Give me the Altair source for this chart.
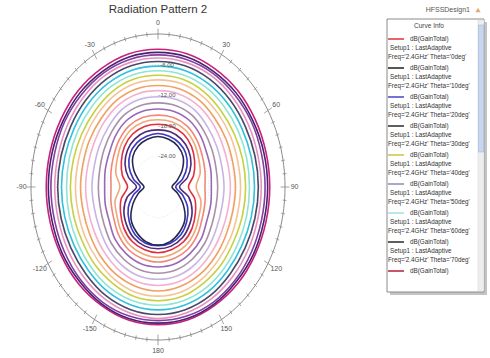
import altair as alt
import numpy as np
import pandas as pd

FONT = "Liberation Sans"

# Cut angles in degrees, measured clockwise from the top of the plot
ANGLES = [0, 15, 30, 45, 60, 75, 90, 105, 120, 135, 150, 165,
          180, 195, 210, 225, 240, 255, 270, 285, 300, 315, 330, 345]

# dB(GainTotal) for each swept curve, one value per cut angle
CURVE_NAMES = ["c01", "c02", "c03", "c04", "c05", "c06", "c07", "c08", "c09", "c10",
               "c11", "c12", "c13", "c14", "c15", "c16", "c17", "c18", "c19", "c20"]
CURVE_COLORS = ["#c8207a", "#4a2070", "#8040a0", "#e890c0", "#484868",
                "#30c0dc", "#90e4d4", "#c8d040", "#f4c498", "#f0a060",
                "#f4b0d0", "#c8b4e4", "#a890a8", "#9868b8", "#f08878",
                "#f0a878", "#e03040", "#502878", "#3838c0", "#282850"]
GAIN = [
    [-3.0, -3.0, -3.2, -3.3, -3.5, -3.6, -3.6, -3.6, -3.5, -3.3, -3.2, -3.0, -3.0,
     -3.0, -3.2, -3.3, -3.5, -3.6, -3.6, -3.6, -3.5, -3.3, -3.2, -3.0],
    [-3.6, -3.6, -3.8, -3.9, -4.1, -4.1, -4.1, -4.1, -3.9, -3.8, -3.5, -3.3, -3.3,
     -3.3, -3.5, -3.8, -3.9, -4.1, -4.1, -4.1, -4.1, -3.9, -3.8, -3.6],
    [-4.1, -4.1, -4.2, -4.4, -4.5, -4.7, -4.7, -4.7, -4.5, -4.2, -3.9, -3.8, -3.8,
     -3.8, -3.9, -4.2, -4.5, -4.7, -4.7, -4.7, -4.5, -4.4, -4.2, -4.1],
    [-4.7, -4.7, -4.8, -5.1, -5.4, -5.6, -5.6, -5.6, -5.4, -5.1, -4.7, -4.4, -4.2,
     -4.4, -4.7, -5.1, -5.4, -5.6, -5.6, -5.6, -5.4, -5.1, -4.8, -4.7],
    [-5.4, -5.4, -5.6, -5.9, -6.2, -6.3, -6.3, -6.3, -6.2, -5.9, -5.4, -5.1, -5.0,
     -5.1, -5.4, -5.9, -6.2, -6.3, -6.3, -6.3, -6.2, -5.9, -5.6, -5.4],
    [-6.3, -6.3, -6.5, -6.8, -7.1, -7.2, -7.2, -7.2, -7.1, -6.8, -6.3, -6.0, -5.9,
     -6.0, -6.3, -6.8, -7.1, -7.2, -7.2, -7.2, -7.1, -6.8, -6.5, -6.3],
    [-7.2, -7.2, -7.4, -7.8, -8.1, -8.3, -8.4, -8.3, -8.1, -7.7, -7.2, -6.9, -6.8,
     -6.9, -7.2, -7.7, -8.1, -8.3, -8.4, -8.3, -8.1, -7.8, -7.4, -7.2],
    [-8.1, -8.1, -8.4, -8.9, -9.2, -9.3, -9.3, -9.3, -9.2, -8.7, -8.3, -7.8, -7.7,
     -7.8, -8.3, -8.7, -9.2, -9.3, -9.3, -9.3, -9.2, -8.9, -8.4, -8.1],
    [-9.0, -9.0, -9.3, -9.8, -10.2, -10.5, -10.5, -10.5, -10.2, -9.8, -9.2, -8.7, -8.6,
     -8.7, -9.2, -9.8, -10.2, -10.5, -10.5, -10.5, -10.2, -9.8, -9.3, -9.0],
    [-10.1, -10.1, -10.4, -11.0, -11.4, -11.7, -11.7, -11.7, -11.4, -10.8, -10.2, -9.8, -9.6,
     -9.8, -10.2, -10.8, -11.4, -11.7, -11.7, -11.7, -11.4, -11.0, -10.4, -10.1],
    [-11.1, -11.1, -11.4, -12.0, -12.6, -12.9, -12.9, -12.9, -12.6, -12.0, -11.3, -10.8, -10.7,
     -10.8, -11.3, -12.0, -12.6, -12.9, -12.9, -12.9, -12.6, -12.0, -11.4, -11.1],
    [-12.3, -12.3, -12.6, -13.4, -14.0, -14.4, -14.4, -14.4, -14.0, -13.2, -12.5, -12.0, -11.9,
     -12.0, -12.5, -13.2, -14.0, -14.4, -14.4, -14.4, -14.0, -13.4, -12.6, -12.3],
    [-13.5, -13.5, -13.8, -14.6, -15.3, -15.8, -15.9, -15.8, -15.3, -14.4, -13.7, -13.2, -13.1,
     -13.2, -13.7, -14.4, -15.3, -15.8, -15.9, -15.8, -15.3, -14.6, -13.8, -13.5],
    [-14.7, -14.7, -15.0, -15.8, -16.7, -17.1, -17.4, -17.1, -16.7, -15.6, -14.9, -14.4, -14.3,
     -14.4, -14.9, -15.6, -16.7, -17.1, -17.4, -17.1, -16.7, -15.8, -15.0, -14.7],
    [-15.9, -15.9, -16.2, -17.0, -17.9, -18.5, -18.9, -18.5, -17.9, -16.8, -15.9, -15.5, -15.3,
     -15.5, -15.9, -16.8, -17.9, -18.5, -18.9, -18.5, -17.9, -17.0, -16.2, -15.9],
    [-16.8, -16.8, -17.1, -17.9, -18.9, -19.7, -21.0, -19.5, -18.8, -17.7, -16.8, -16.4, -16.2,
     -16.4, -16.8, -17.7, -18.8, -19.5, -21.0, -19.7, -18.9, -17.9, -17.1, -16.8],
    [-17.7, -17.7, -18.0, -18.8, -20.0, -21.3, -22.8, -21.0, -19.8, -18.6, -17.7, -17.3, -17.1,
     -17.3, -17.7, -18.6, -19.8, -21.0, -22.8, -21.3, -20.0, -18.8, -18.0, -17.7],
    [-18.8, -18.8, -19.1, -19.8, -21.0, -22.8, -24.9, -22.5, -20.7, -19.5, -18.5, -18.0, -17.9,
     -18.0, -18.5, -19.5, -20.7, -22.5, -24.9, -22.8, -21.0, -19.8, -19.1, -18.8],
    [-19.5, -19.7, -20.0, -20.7, -22.1, -24.0, -25.8, -24.0, -21.9, -20.4, -19.2, -18.6, -18.5,
     -18.6, -19.2, -20.4, -21.9, -24.0, -25.8, -24.0, -22.1, -20.7, -20.0, -19.7],
    [-20.1, -20.3, -20.7, -21.6, -23.4, -25.4, -26.7, -25.2, -23.1, -21.0, -19.8, -18.9, -18.6,
     -18.9, -19.8, -21.0, -23.1, -25.2, -26.7, -25.4, -23.4, -21.6, -20.7, -20.3],
]

# Radial axis (dB) and angular labels
R_MIN, R_MAX = -30.0, 0.0
RADIAL_TICKS = [-24, -18, -12, -6]
ANGLE_TICKS = [0, 30, 60, 90, 120, 150, 180, 210, 240, 270, 300, 330]
ANGLE_LABELS = ["0", "30", "60", "90", "120", "150", "180",
                "-150", "-120", "-90", "-60", "-30"]

TITLE = "Radiation Pattern 2"

# Curve info box
LEGEND_COLORS = ["#e0303c", "#1e1e1e", "#4646c8", "#2a2a2a", "#c8c83c",
                 "#8c8cb4", "#9fe0e6", "#2a2a2a", "#b41e3c"]
LEGEND_THETA = ["0deg", "10deg", "20deg", "30deg", "40deg",
                "50deg", "60deg", "70deg", "80deg"]

W, H = 254, 306
PAD_L, PAD_T = 31, 34

XS = alt.Scale(domain=[-1, 1], nice=False, zero=False)
YS = alt.Scale(domain=[-1, 1], nice=False, zero=False)
X = alt.X("x:Q", scale=XS, axis=None)
Y = alt.Y("y:Q", scale=YS, axis=None)

RHO = f"(datum.gain - ({R_MIN})) / ({R_MAX - R_MIN})"
SIN = "sin(datum.angle * PI / 180)"
COS = "cos(datum.angle * PI / 180)"

pattern = pd.DataFrame(
    [{"curve": name, "angle": a, "gain": g}
     for name, vals in zip(CURVE_NAMES, GAIN) for a, g in zip(ANGLES, vals)]
)

curves = alt.Chart(pattern).transform_calculate(
    rho=RHO
).transform_calculate(
    x=f"datum.rho * {SIN}", y=f"datum.rho * {COS}"
).mark_line(interpolate="cardinal-closed", strokeWidth=1.6).encode(
    x=X, y=Y,
    color=alt.Color("curve:N", scale=alt.Scale(domain=CURVE_NAMES, range=CURVE_COLORS), legend=None),
    order=alt.Order("angle:Q"),
)

# Polar frame: outer ring, faint inner rings, ticks and labels
ring_angles = np.arange(0, 361, 2)
ring_df = pd.DataFrame({"angle": ring_angles})
outer_ring = alt.Chart(ring_df).transform_calculate(
    x=SIN, y=COS
).mark_line(color="#8c8c8c", strokeWidth=1).encode(x=X, y=Y, order=alt.Order("angle:Q"))

inner_df = pd.DataFrame([{"level": lv, "angle": a} for lv in RADIAL_TICKS for a in ring_angles])
inner_rings = alt.Chart(inner_df).transform_calculate(
    r=f"(datum.level - ({R_MIN})) / ({R_MAX - R_MIN})"
).transform_calculate(
    x=f"datum.r * {SIN}", y=f"datum.r * {COS}"
).mark_line(color="#d8d8d8", strokeWidth=0.7, strokeDash=[1, 2]).encode(
    x=X, y=Y, detail="level:N", order=alt.Order("angle:Q")
)

tick_df = pd.DataFrame({"angle": np.arange(0, 360, 5)})
ticks = alt.Chart(tick_df).transform_calculate(
    major="datum.angle % 30 == 0"
).transform_calculate(
    r1="datum.major ? 0.965 : 0.985", r2="datum.major ? 1.035 : 1.015"
).transform_calculate(
    x=f"datum.r1 * {SIN}", y=f"datum.r1 * {COS}",
    x2=f"datum.r2 * {SIN}", y2=f"datum.r2 * {COS}",
).mark_rule(color="#8c8c8c", strokeWidth=0.8).encode(
    x=X, y=Y, x2="x2:Q", y2="y2:Q"
)

label_df = pd.DataFrame({"angle": ANGLE_TICKS, "label": ANGLE_LABELS})
angle_labels = alt.Chart(label_df).transform_calculate(
    x=f"1.075 * {SIN}", y=f"1.075 * {COS}"
).mark_text(font=FONT, fontSize=7, color="#555555").encode(x=X, y=Y, text="label:N")

radial_df = pd.DataFrame({"gain": RADIAL_TICKS,
                          "label": [f"{v:.2f}" for v in RADIAL_TICKS]})
radial_labels = alt.Chart(radial_df).transform_calculate(
    x="0", y=f"({RHO})"
).mark_text(font=FONT, fontSize=6, color="#555555", dx=9).encode(x=X, y=Y, text="label:N")

# Title, centred over the polar plot (pixel positions relative to the plot area)
one = pd.DataFrame({"k": [0]})
title = alt.Chart(one).mark_text(font=FONT, fontSize=11.5, color="#333333", baseline="middle").encode(
    x=alt.value(W / 2), y=alt.value(-24), text=alt.value(TITLE)
)

# Curve info box
box_shadow = alt.Chart(one).mark_rect(fill="#c4c4c4").encode(
    x=alt.value(359), x2=alt.value(456), y=alt.value(-12), y2=alt.value(261)
)
box = alt.Chart(one).mark_rect(fill="white", stroke="#8a8a8a", strokeWidth=1).encode(
    x=alt.value(356), x2=alt.value(453), y=alt.value(-15), y2=alt.value(258)
)
scroll_track = alt.Chart(one).mark_rect(fill="#eeeeee", stroke="#d0d0d0", strokeWidth=0.5).encode(
    x=alt.value(447), x2=alt.value(453), y=alt.value(-14), y2=alt.value(257)
)
scroll_thumb = alt.Chart(one).mark_rect(fill="#c9d6ef", stroke="#a4b6dc", strokeWidth=0.6).encode(
    x=alt.value(447.5), x2=alt.value(452.5), y=alt.value(-9), y2=alt.value(118)
)
header = alt.Chart(one).mark_text(font=FONT, fontSize=6.5, color="#444444").encode(
    x=alt.value(398), y=alt.value(-8), text=alt.value("Curve Info")
)
design = alt.Chart(one).mark_text(font=FONT, fontSize=7, color="#555555", align="right").encode(
    x=alt.value(439), y=alt.value(-24), text=alt.value("HFSSDesign1")
)
design_icon = alt.Chart(one).mark_point(shape="triangle-up", filled=True, color="#d08a40", size=28).encode(
    x=alt.value(447), y=alt.value(-24)
)

legend_df = pd.DataFrame({"slot": list(range(len(LEGEND_COLORS))),
                          "color": LEGEND_COLORS,
                          "theta": LEGEND_THETA})
legend_base = alt.Chart(legend_df).transform_calculate(
    ly="5 + 29 * datum.slot",
    info="\"Freq='2.4GHz' Theta='\" + datum.theta + \"'\"",
)
LY = alt.Y("ly:Q", scale=None)
swatches = legend_base.mark_rule(strokeWidth=1.5).encode(
    x=alt.value(357), x2=alt.value(373), y=LY, color=alt.Color("color:N", scale=None)
)
line1 = legend_base.mark_text(font=FONT, fontSize=6.3, color="#333333", align="left").encode(
    x=alt.value(379), y=LY, text=alt.value("dB(GainTotal)")
)
line2 = legend_base.transform_filter("datum.slot < 8").transform_calculate(
    ly2="datum.ly + 9"
).mark_text(font=FONT, fontSize=6.3, color="#333333", align="left").encode(
    x=alt.value(359), y=alt.Y("ly2:Q", scale=None), text=alt.value("Setup1 : LastAdaptive")
)
line3 = legend_base.transform_filter("datum.slot < 8").transform_calculate(
    ly3="datum.ly + 18"
).mark_text(font=FONT, fontSize=6.3, color="#333333", align="left").encode(
    x=alt.value(357), y=alt.Y("ly3:Q", scale=None), text="info:N"
)

chart = alt.layer(
    inner_rings, curves, outer_ring, ticks, angle_labels, radial_labels, title,
    box_shadow, box, scroll_track, scroll_thumb, header, design, design_icon,
    swatches, line1, line2, line3,
).resolve_scale(
    x="independent", y="independent", color="independent"
).properties(
    width=W, height=H,
    background="white",
    autosize=alt.AutoSizeParams(type="none"),
    padding={"left": PAD_L, "top": PAD_T, "right": 490 - PAD_L - W, "bottom": 358 - PAD_T - H},
).configure_view(stroke=None)

chart.save("out.html", embed_options={"renderer": "svg", "actions": False})
